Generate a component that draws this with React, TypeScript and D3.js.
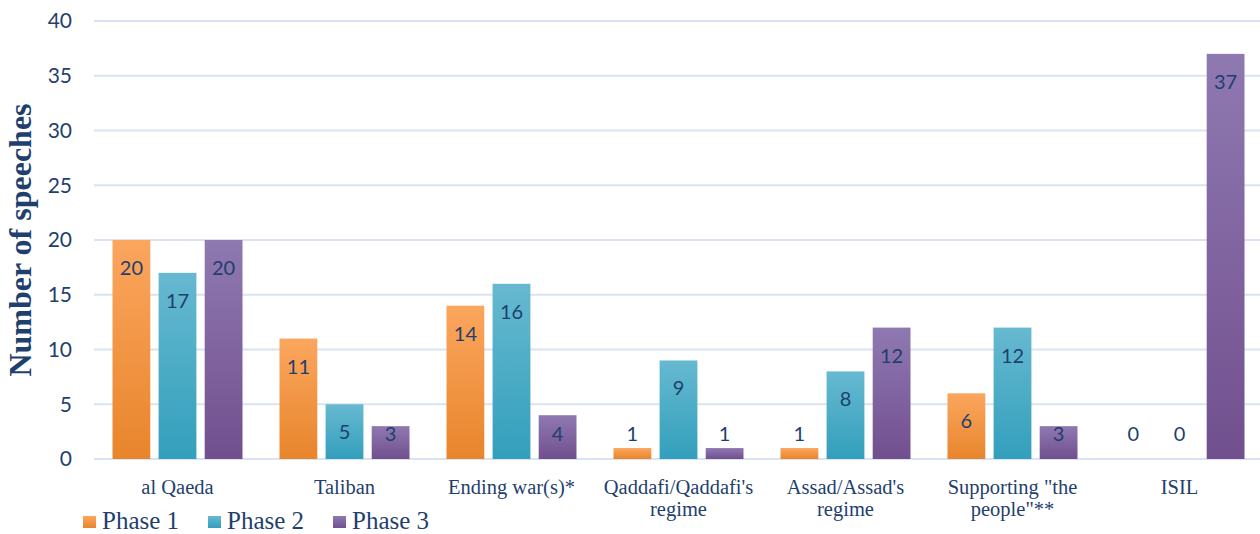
import React from "react";
import * as d3 from "d3";

const categories: string[][] = [
  ["al Qaeda"],
  ["Taliban"],
  ["Ending war(s)*"],
  ["Qaddafi/Qaddafi's", "regime"],
  ["Assad/Assad's", "regime"],
  ["Supporting \"the", "people\"**"],
  ["ISIL"],
];
const seriesNames = ["Phase 1", "Phase 2", "Phase 3"];
const phase1 = [20, 11, 14, 1, 1, 6, 0];
const phase2 = [17, 5, 16, 9, 8, 12, 0];
const phase3 = [20, 3, 4, 1, 12, 3, 37];
const yTicks = [0, 5, 10, 15, 20, 25, 30, 35, 40];

const gradients = [
  { id: "g1", top: "#FBA65E", bottom: "#E8852C" },
  { id: "g2", top: "#66B9D0", bottom: "#339FBC" },
  { id: "g3", top: "#8F79B1", bottom: "#714F8E" },
];

const W = 1260;
const H = 534;
const left = 94;
const right = 1263;
const top = 21;
const bottom = 459;
const labelColor = "#1F3F6E";
const serif = "Liberation Serif, Times New Roman, serif";
const sans = "Lato, Open Sans, sans-serif";

export default function App() {
  const series = [phase1, phase2, phase3];
  const x0 = d3
    .scaleBand<number>()
    .domain(categories.map((_, i) => i))
    .range([left, right])
    .paddingInner(0)
    .paddingOuter(0);
  const groupW = x0.bandwidth();
  const x1 = d3
    .scaleBand<number>()
    .domain([0, 1, 2])
    .range([18.5, groupW - 18.5])
    .paddingInner(0.18)
    .paddingOuter(0);
  const y = d3.scaleLinear().domain([0, 40]).range([bottom, top]);
  const labelMaxY = y(2.3);

  return (
    <svg
      width={W}
      height={H}
      style={{ position: "absolute", left: 0, top: 0, background: "#fff" }}
    >
      <defs>
        {gradients.map((g) => (
          <linearGradient key={g.id} id={g.id} x1="0" y1="0" x2="0" y2="1">
            <stop offset="0%" stopColor={g.top} />
            <stop offset="100%" stopColor={g.bottom} />
          </linearGradient>
        ))}
      </defs>
      {yTicks.map((t) => (
        <g key={t}>
          <line
            x1={left}
            x2={W}
            y1={y(t)}
            y2={y(t)}
            stroke="#D9E3F1"
            strokeWidth={2}
          />
          <text
            x={72}
            y={y(t)}
            dy="0.35em"
            textAnchor="end"
            fontFamily={sans}
            fontSize={21}
            fill={labelColor}
          >
            {t}
          </text>
        </g>
      ))}
      <text
        transform={`translate(31,240) rotate(-90)`}
        textAnchor="middle"
        fontFamily={serif}
        fontWeight="bold"
        fontSize={32}
        fill={labelColor}
      >
        Number of speeches
      </text>
      {categories.map((cat, i) => (
        <g key={i} transform={`translate(${x0(i)},0)`}>
          {series.map((s, k) => {
            const v = s[i];
            const bx = x1(k)!;
            const bw = x1.bandwidth();
            return (
              <g key={k}>
                {v > 0 && (
                  <rect
                    x={bx}
                    y={y(v)}
                    width={bw}
                    height={bottom - y(v)}
                    fill={`url(#${gradients[k].id})`}
                  />
                )}
                {!(v === 0 && k === 2) && (
                  <text
                    x={bx + bw / 2}
                    y={Math.min(y(v) + 28, labelMaxY)}
                    dy="0.35em"
                    textAnchor="middle"
                    fontFamily={sans}
                    fontSize={20}
                    fill={labelColor}
                  >
                    {v}
                  </text>
                )}
              </g>
            );
          })}
          {cat.map((line, li) => (
            <text
              key={li}
              x={groupW / 2}
              y={487 + li * 22}
              dy="0.35em"
              textAnchor="middle"
              fontFamily={serif}
              fontSize={20.5}
              fill={labelColor}
            >
              {line}
            </text>
          ))}
        </g>
      ))}
      {seriesNames.map((name, k) => {
        const lx = [83, 208, 333][k];
        return (
          <g key={name}>
            <rect
              x={lx}
              y={516}
              width={13}
              height={12}
              fill={`url(#${gradients[k].id})`}
            />
            <text
              x={lx + 19}
              y={529}
              fontFamily={serif}
              fontSize={25}
              fill={labelColor}
            >
              {name}
            </text>
          </g>
        );
      })}
    </svg>
  );
}
